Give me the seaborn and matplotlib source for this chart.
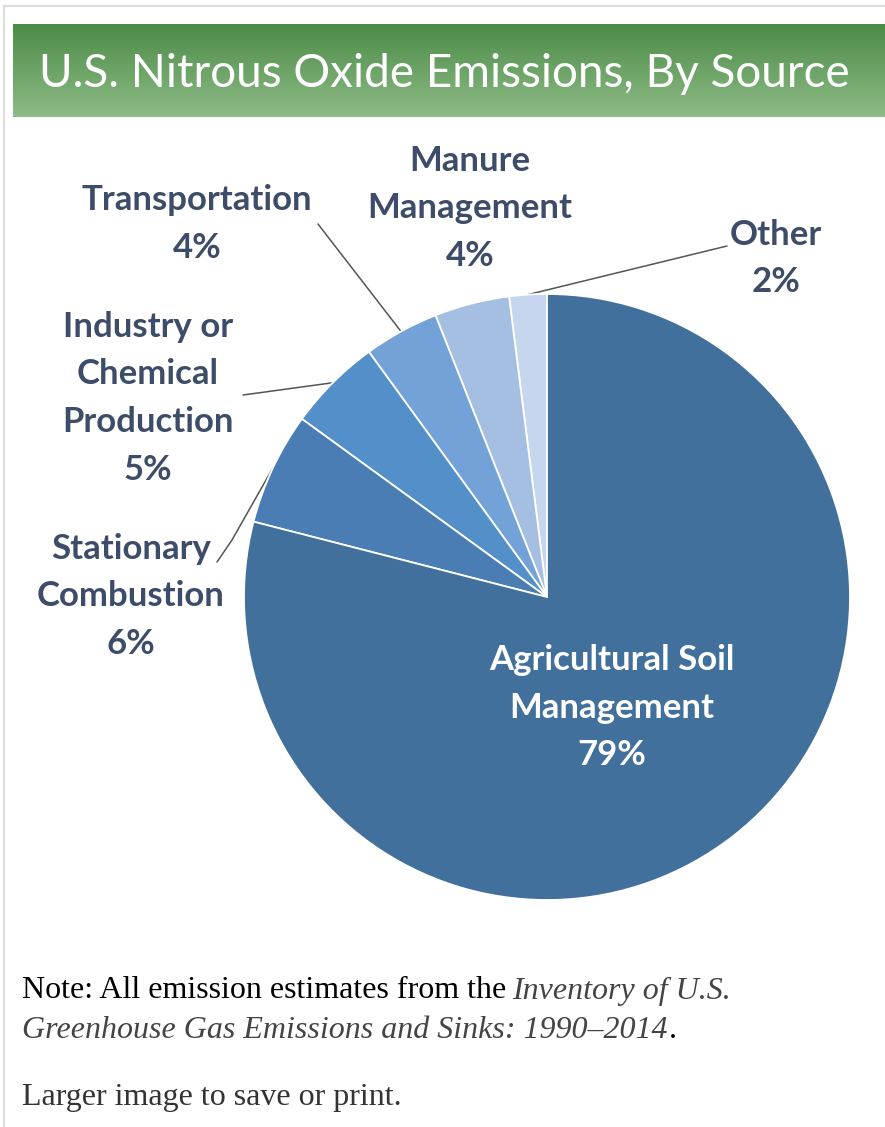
import numpy as np
import matplotlib
matplotlib.use("Agg")
import matplotlib.pyplot as plt
import seaborn as sns

sns.set_theme(style="white")
plt.rcParams['font.family'] = ['Lato', 'DejaVu Sans']

# ---- data ----
categories = ["Other", "Manure\nManagement", "Transportation",
              "Industry or\nChemical\nProduction", "Stationary\nCombustion",
              "Agricultural Soil\nManagement"]
shares = [2, 4, 4, 5, 6, 79]
colors = ["#c6d6ee", "#a5bfe3", "#72a2d7", "#5390c9", "#4a7db3", "#41709c"]

W, H = 885, 1127
fig = plt.figure(figsize=(W / 100, H / 100), dpi=100)
ax = fig.add_axes([0, 0, 1, 1])

def Y(py):
    return H - py

# pie
cx, cy, R = 547, Y(597), 303
wedges, _ = ax.pie(shares, colors=colors, startangle=90, counterclock=True,
                   center=(cx, cy), radius=R, frame=True,
                   wedgeprops=dict(edgecolor="white", linewidth=1.3))
ax.set_xlim(0, W)
ax.set_ylim(0, H)
ax.set_aspect("equal")
ax.axis("off")

# frame lines
ax.plot([4, 4], [0, Y(6)], color="#dddddd", lw=1.5)
ax.plot([4, W], [Y(6), Y(6)], color="#dddddd", lw=1.5)

# title banner gradient
grad = np.linspace(0, 1, 256).reshape(-1, 1)
top = np.array([0x4c, 0x8c, 0x47]) / 255
bot = np.array([0x8e, 0xbb, 0x87]) / 255
img = top[None, None, :] * (1 - grad[:, :, None]) + bot[None, None, :] * grad[:, :, None]
ax.imshow(img, extent=[13, W, Y(117), Y(24)], aspect="auto", zorder=1)
ax.text(444, Y(74), "U.S. Nitrous Oxide Emissions, By Source", color="white",
        fontsize=33, ha="center", va="center", zorder=2)
ax.set_xlim(0, W)
ax.set_ylim(0, H)

lab_color = "#3d4c68"
label_pos = {
    "Other": (776, 235),
    "Manure\nManagement": (470, 161),
    "Transportation": (197, 200),
    "Industry or\nChemical\nProduction": (148, 327),
    "Stationary\nCombustion": (131, 549),
    "Agricultural Soil\nManagement": (612, 660),
}
gap = 47.5
for cat, val in zip(categories, shares):
    x0, y0 = label_pos[cat]
    lines = cat.split("\n") + [f"{val}%"]
    col = "white" if val > 50 else lab_color
    for i, ln in enumerate(lines):
        ax.text(x0, Y(y0 + i * gap), ln, color=col, fontsize=25, fontweight="bold",
                ha="center", va="center", zorder=3)

# leader lines: from label end to wedge edge
leader_start = {
    "Other": [(727, 246)],
    "Transportation": [(318, 224)],
    "Industry or\nChemical\nProduction": [(243, 395), (265, 392)],
    "Stationary\nCombustion": [(217, 562), (232, 540)],
}
for w, cat in zip(wedges, categories):
    if cat not in leader_start:
        continue
    mid = np.deg2rad((w.theta1 + w.theta2) / 2)
    ex, ey = cx + R * np.cos(mid), cy + R * np.sin(mid)
    pts = [(x, Y(y)) for x, y in leader_start[cat]] + [(ex, ey)]
    xs, ys = zip(*pts)
    ax.plot(xs, ys, color="#555555", lw=1.1, zorder=0.5)

# note text
serif = ["Liberation Serif", "DejaVu Serif"]
fs = 23
t1 = ax.text(22, Y(991), "Note: All emission estimates from the", family=serif, fontsize=fs,
             color="black", ha="left", va="center")
fig.canvas.draw()
bb = t1.get_window_extent(renderer=fig.canvas.get_renderer())
x_end = ax.transData.inverted().transform((bb.x1, bb.y0))[0]
ax.text(x_end + 6, Y(991), "Inventory of U.S.", family=serif, fontsize=fs, style="italic",
        color="#444444", ha="left", va="center")
t3 = ax.text(22, Y(1031), "Greenhouse Gas Emissions and Sinks: 1990\u20132014", family=serif,
             fontsize=fs, style="italic", color="#444444", ha="left", va="center")
fig.canvas.draw()
bb3 = t3.get_window_extent(renderer=fig.canvas.get_renderer())
x_end3 = ax.transData.inverted().transform((bb3.x1, bb3.y0))[0]
ax.text(x_end3 + 1, Y(1031), ".", family=serif, fontsize=fs, color="black",
        ha="left", va="center")
ax.text(22, Y(1098), "Larger image to save or print.", family=serif, fontsize=fs,
        color="#333333", ha="left", va="center")

fig.savefig("out.png", dpi=100, facecolor="white")
